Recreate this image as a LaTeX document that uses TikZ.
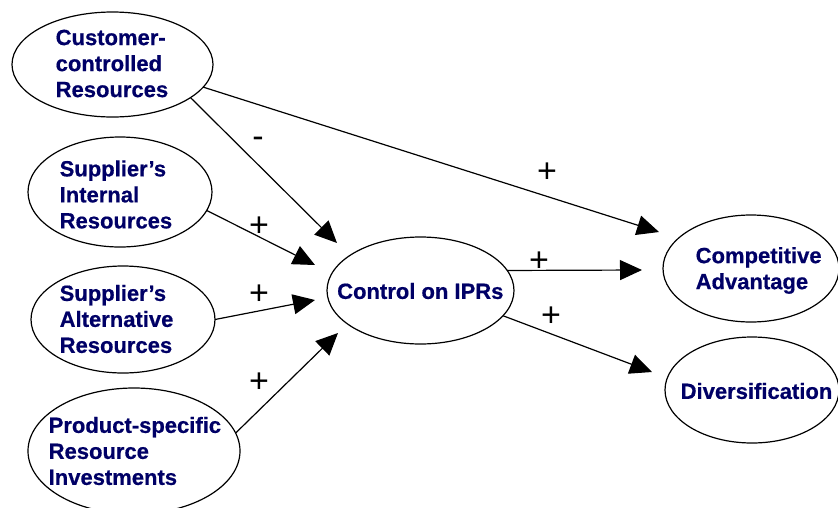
\documentclass[tikz,border=0pt]{standalone}
\usepackage{fontspec}
\setmainfont[BoldFeatures={FakeBold=0.6}]{Liberation Sans}
\usetikzlibrary{arrows.meta,shapes.geometric}
\definecolor{navy}{RGB}{0,0,102}
\begin{document}
\begin{tikzpicture}[x=1pt,y=-1pt,
  ell/.style={draw=black, line width=1.2pt, ellipse, inner sep=0pt, outer sep=0pt},
  txt/.style={text=navy, font=\fontsize{22}{26}\selectfont\bfseries, align=left, inner sep=0pt, anchor=west},
  arr/.style={-{Triangle[length=22pt,width=20pt]}, line width=1.2pt},
  lab/.style={font=\fontsize{34}{34}\selectfont, inner sep=0pt}]
\useasboundingbox (0,0) rectangle (838,507);
% ellipses
\node[ell, minimum width=201pt, minimum height=105pt] (cust) at (112.5,64.5) {};
\node[ell, minimum width=184pt, minimum height=110pt] (intr) at (120,192) {};
\node[ell, minimum width=184pt, minimum height=107pt] (alt) at (123,319.5) {};
\node[ell, minimum width=212pt, minimum height=126pt] (prod) at (134,451) {};
\node[ell, minimum width=187pt, minimum height=107pt] (ctrl) at (420.5,290.5) {};
\node[ell, minimum width=176pt, minimum height=107pt] (comp) at (751,268.5) {};
\node[ell, minimum width=174pt, minimum height=106pt] (div) at (752,390) {};
% texts
\node[txt] (custt) at (55.5,63.5) {Customer-\\controlled\\Resources};
\node[txt] (intrt) at (59.5,194.5) {Supplier’s\\Internal\\Resources};
\node[txt] (altt) at (59.5,319) {Supplier’s\\Alternative\\Resources};
\node[txt] (prodt) at (48.5,451) {Product-specific\\Resource\\Investments};
\node[txt] (ctrlt) at (337,291) {Control on IPRs};
\node[txt] (compt) at (695.5,270.5) {Competitive\\Advantage};
\node[txt] (divt) at (680.5,391) {Diversification};
% arrow tips
\coordinate (t1) at (337,243);
\coordinate (t2) at (659,232);
\coordinate (t3) at (315,265);
\coordinate (t4) at (315,300);
\coordinate (t5) at (338,333);
\coordinate (t6) at (642,270);
\coordinate (t7) at (652,372);
% connectors
\draw[arr] (cust.-23.5) -- (t1);
\draw[arr] (cust.-14.8) -- (t2);
\draw[arr] (intr.-12.9) -- (t3);
\draw[arr] (alt.-0.9) -- (t4);
\draw[arr] (prod.10.3) -- (t5);
\draw[arr] (ctrl.13.2) -- (t6);
\draw[arr] (ctrl.-17.4) -- (t7);
% labels
\node[lab] (l1) at (258,142) {-};
\node[lab] (l2) at (547,173) {+};
\node[lab] (l3) at (259,227) {+};
\node[lab] (l4) at (259,295) {+};
\node[lab] (l5) at (259,383) {+};
\node[lab] (l6) at (539,262) {+};
\node[lab] (l7) at (551,317) {+};
\end{tikzpicture}
\end{document}
